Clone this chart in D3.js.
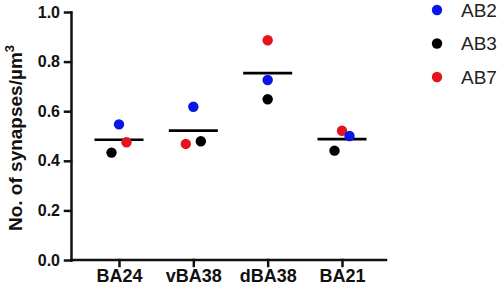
<!DOCTYPE html>
<html>
<head>
<meta charset="utf-8">
<script src="https://cdn.jsdelivr.net/npm/d3@7/dist/d3.min.js"></script>
<style>
  html, body { margin: 0; padding: 0; background: #fff; }
  svg { display: block; }
</style>
</head>
<body>
<svg id="chart" width="500" height="290"></svg>
<script>
// ---- data ----
const categories = ["BA24", "vBA38", "dBA38", "BA21"];
const seriesNames = ["AB2", "AB3", "AB7"];
const seriesColors = ["#0a16e6", "#000000", "#e5141c"];
const valuesAB2 = [0.547, 0.618, 0.726, 0.500];
const valuesAB3 = [0.433, 0.479, 0.648, 0.441];
const valuesAB7 = [0.475, 0.468, 0.886, 0.521];
// horizontal scatter offsets (in dot-steps) used by the original plot
const jitterAB2 = [0, 0, 0, 1];
const jitterAB3 = [-1, 1, 0, -1];
const jitterAB7 = [1, -1, 0, 0];
const yTicks = [0, 0.2, 0.4, 0.6, 0.8, 1.0];

const series = [
  { name: seriesNames[0], color: seriesColors[0], values: valuesAB2, jitter: jitterAB2 },
  { name: seriesNames[1], color: seriesColors[1], values: valuesAB3, jitter: jitterAB3 },
  { name: seriesNames[2], color: seriesColors[2], values: valuesAB7, jitter: jitterAB7 }
];
const means = categories.map((c, i) => d3.mean(series, s => s.values[i]));

// ---- layout ----
const svg = d3.select("#chart");
const axisX = 71, plotBottom = 260, plotTop = 12;
const x = d3.scalePoint().domain(categories).range([119, 342]);
const y = d3.scaleLinear().domain([0, 1]).range([plotBottom, plotTop]);
const jitterStep = 7.5, dotR = 5.2, meanHalf = 24.5;
const font = "'Liberation Sans', Arial, Helvetica, sans-serif";

// y axis
const yAxis = svg.append("g")
  .attr("transform", `translate(${axisX},0)`)
  .call(d3.axisLeft(y).tickValues(yTicks).tickFormat(d3.format(".1f")).tickSize(6).tickSizeOuter(0).tickPadding(5));
yAxis.selectAll("text").attr("font-family", font).attr("font-size", 16).attr("font-weight", "bold").attr("fill", "#111");

// x axis
const xAxis = svg.append("g")
  .attr("transform", `translate(0,${plotBottom})`)
  .call(d3.axisBottom(x).tickSize(6).tickSizeOuter(0).tickPadding(3));
xAxis.select(".domain").attr("d", `M${axisX},0H${x.range()[1] + 44}`);
xAxis.selectAll("text").attr("font-family", font).attr("font-size", 18).attr("font-weight", "bold").attr("fill", "#111");

svg.selectAll(".domain, .tick line").attr("stroke", "#111").attr("stroke-width", 2.5).attr("stroke-linecap", "square");

// mean lines
svg.append("g").selectAll("line").data(categories).join("line")
  .attr("x1", d => x(d) - meanHalf)
  .attr("x2", d => x(d) + meanHalf)
  .attr("y1", (d, i) => y(means[i]))
  .attr("y2", (d, i) => y(means[i]))
  .attr("stroke", "#000").attr("stroke-width", 2.6);

// dots (draw AB3, AB7, then AB2 on top)
const drawOrder = [series[1], series[2], series[0]];
drawOrder.forEach(s => {
  svg.append("g").selectAll("circle").data(categories).join("circle")
    .attr("cx", (d, i) => x(d) + s.jitter[i] * jitterStep)
    .attr("cy", (d, i) => y(s.values[i]))
    .attr("r", dotR)
    .attr("fill", s.color);
});

// y title
svg.append("text")
  .attr("transform", "translate(22,138) rotate(-90)")
  .attr("text-anchor", "middle")
  .attr("font-family", font).attr("font-size", 19).attr("font-weight", "bold").attr("fill", "#111")
  .call(t => {
    t.append("tspan").text("No. of synapses/µm");
    t.append("tspan").attr("font-size", 13).attr("dy", -8).text("3");
  });

// legend
const legend = svg.append("g").attr("transform", "translate(437,10)");
const li = legend.selectAll("g").data(series).join("g")
  .attr("transform", (d, i) => `translate(0,${i * 33.5})`);
li.append("circle").attr("r", dotR).attr("fill", d => d.color);
li.append("text").attr("x", 24).attr("dy", "0.36em")
  .attr("font-family", font).attr("font-size", 19).attr("fill", "#222")
  .text(d => d.name);
</script>
</body>
</html>
